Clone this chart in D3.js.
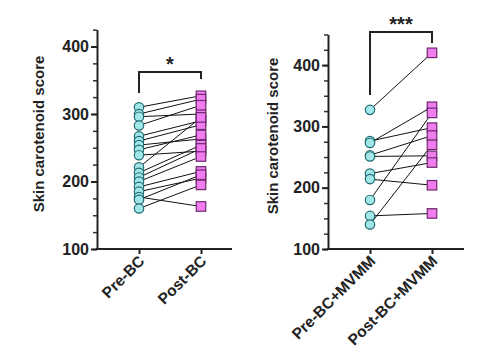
<!DOCTYPE html>
<html><head><meta charset="utf-8">
<script src="https://cdn.jsdelivr.net/npm/d3@7"></script>
<style>body{margin:0;background:#fff}svg{display:block}</style>
</head><body>
<svg id="c" width="486" height="360"></svg>
<script>
// Left panel data (paired)
const leftCategories = ["Pre-BC", "Post-BC"];
const leftPre  = [310, 300, 296, 283, 267, 260, 254, 247, 239, 221, 213, 206, 200, 192, 185, 177, 173, 160];
const leftPost = [327, 322, 300, 313, 290, 284, 263, 269, 245, 295, 254, 249, 237, 215, 205, 163, 210, 195];
const leftSig = "*";
// Right panel data (paired)
const rightCategories = ["Pre-BC+MVMM", "Post-BC+MVMM"];
const rightPre  = [327, 276, 273, 253, 251, 223, 214, 180, 154, 140];
const rightPost = [420, 298, 332, 285, 252, 241, 204, 322, 158, 270];
const rightSig = "***";
const yTicks = [100, 200, 300, 400];
const yLabel = "Skin carotenoid score";

const svg = d3.select("#c");
const font = "Arial, 'Liberation Sans', sans-serif";

function panel(o) {
  const y = d3.scaleLinear().domain([100, o.ymax]).range([o.y0, o.y0 - (o.ymax - 100) * o.k]);
  const x = d3.scalePoint().domain(o.cats).range([o.xa, o.xb]);
  const g = svg.append("g");
  const minor = d3.range(100, o.ymax + 0.1, 25);
  g.append("g").attr("transform", `translate(${o.ax},0)`)
    .call(d3.axisLeft(y).tickValues(minor).tickSize(4).tickFormat(""))
    .call(s => s.select(".domain").remove())
    .selectAll("line").attr("stroke", "#333").attr("stroke-width", 1.5);
  const ya = g.append("g").attr("transform", `translate(${o.ax},0)`)
    .call(d3.axisLeft(y).tickValues(yTicks).tickSize(6).tickSizeOuter(0).tickPadding(2));
  ya.select(".domain").attr("stroke", "#222").attr("stroke-width", 2);
  ya.selectAll("line").attr("stroke", "#222").attr("stroke-width", 2);
  ya.selectAll("text").attr("font-family", font).attr("font-weight", "bold").attr("font-size", 16).attr("fill", "#222");
  const xg = g.append("g").attr("transform", `translate(0,${o.y0})`);
  xg.append("line").attr("x1", o.ax - 1).attr("x2", o.xe).attr("stroke", "#222").attr("stroke-width", 2);
  const xa = g.append("g").attr("transform", `translate(0,${o.y0})`)
    .call(d3.axisBottom(x).tickSize(5).tickSizeOuter(0));
  xa.select(".domain").remove();
  xa.selectAll("line").attr("stroke", "#222").attr("stroke-width", 2);
  xa.selectAll("text").attr("font-family", font).attr("font-weight", "bold").attr("font-size", 15.5).attr("fill", "#222")
    .attr("text-anchor", "end").attr("dy", null).attr("y", 0)
    .attr("transform", "translate(6,13) rotate(-45)");
  g.append("text").attr("transform", `translate(${o.lx},${o.ly}) rotate(-90)`)
    .attr("text-anchor", "middle").attr("font-family", font).attr("font-weight", "bold").attr("font-size", 15)
    .attr("fill", "#222").text(yLabel);
  const pairs = o.pre.map((v, i) => [v, o.post[i]]);
  g.append("g").selectAll("line").data(pairs).join("line")
    .attr("x1", x(o.cats[0])).attr("x2", x(o.cats[1]))
    .attr("y1", d => y(d[0])).attr("y2", d => y(d[1]))
    .attr("stroke", "#111").attr("stroke-width", 1);
  g.append("g").selectAll("circle").data(o.pre).join("circle")
    .attr("cx", x(o.cats[0])).attr("cy", d => y(d)).attr("r", 4.7)
    .attr("fill", "#a2e6ea").attr("stroke", "#1e6a6e").attr("stroke-width", 1.2);
  const s = 9.5;
  g.append("g").selectAll("rect").data(o.post).join("rect")
    .attr("x", x(o.cats[1]) - s / 2).attr("y", d => y(d) - s / 2).attr("width", s).attr("height", s)
    .attr("fill", "#f07cf0").attr("stroke", "#6e2a6e").attr("stroke-width", 1.2);
  const bx1 = x(o.cats[0]), bx2 = x(o.cats[1]);
  g.append("path").attr("d", `M${bx1},${o.bl}V${o.bt}H${bx2}V${o.br}`)
    .attr("fill", "none").attr("stroke", "#222").attr("stroke-width", 2);
  g.append("text").attr("x", (bx1 + bx2) / 2).attr("y", o.bt - 1).attr("text-anchor", "middle")
    .attr("font-family", font).attr("font-weight", "bold").attr("font-size", 20).attr("fill", "#222").text(o.sig);
}

panel({cats: leftCategories, pre: leftPre, post: leftPost, sig: leftSig,
  ymax: 425, y0: 249, k: 0.675, ax: 97, xa: 139, xb: 201, xe: 232,
  lx: 44, ly: 134, bt: 72, bl: 93, br: 79});
panel({cats: rightCategories, pre: rightPre, post: rightPost, sig: rightSig,
  ymax: 450, y0: 249, k: 0.613, ax: 328, xa: 370, xb: 432, xe: 464,
  lx: 278, ly: 136, bt: 32, bl: 95, br: 43});
</script>
</body></html>
